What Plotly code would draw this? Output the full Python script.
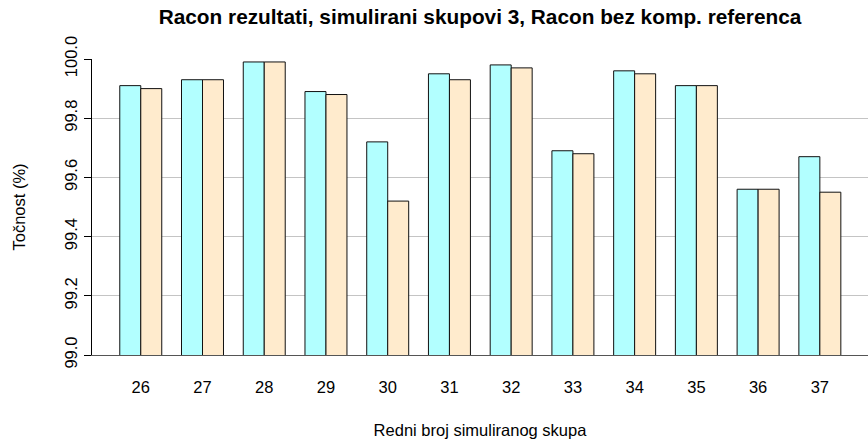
import plotly.graph_objects as go

categories = ["26", "27", "28", "29", "30", "31", "32", "33", "34", "35", "36", "37"]
racon_sim = [99.91, 99.93, 99.99, 99.89, 99.72, 99.95, 99.98, 99.69, 99.96, 99.91, 99.56, 99.67]
racon_bez = [99.90, 99.93, 99.99, 99.88, 99.52, 99.93, 99.97, 99.68, 99.95, 99.91, 99.56, 99.55]
y_ticks = [99.0, 99.2, 99.4, 99.6, 99.8, 100.0]
y_tick_labels = ["99.0", "99.2", "99.4", "99.6", "99.8", "100.0"]

FONT = "Liberation Sans, Arial, Helvetica, sans-serif"

fig = go.Figure()
fig.add_trace(go.Bar(x=categories, y=racon_sim, marker=dict(color="#B2FFFF", line=dict(color="#111111", width=1)),
                     showlegend=False))
fig.add_trace(go.Bar(x=categories, y=racon_bez, marker=dict(color="#FFEBCD", line=dict(color="#111111", width=1)),
                     showlegend=False))

fig.update_layout(
    width=868, height=441,
    margin=dict(l=92, r=0, t=59, b=86),
    paper_bgcolor="white", plot_bgcolor="white",
    barmode="group", bargap=0.32, bargroupgap=0,
    font=dict(family=FONT, size=16.5, color="black"),
    title=dict(text="<b>Racon rezultati, simulirani skupovi 3, Racon bez komp. referenca</b>",
               x=0.5, xref="paper", xanchor="center", y=1 - 17 / 441, yref="container", yanchor="middle",
               font=dict(size=20.8, family=FONT)),
    xaxis=dict(type="category", range=[-0.79, 11.78], showgrid=False, showline=True, automargin=False,
               linecolor="#555555", linewidth=1, ticks="", ticklabelstandoff=17,
               title=dict(text="Redni broj simuliranog skupa", standoff=29, font=dict(size=16.5)),
               tickfont=dict(size=16.5)),
    yaxis=dict(range=[99.0, 100.0], tickvals=y_ticks, ticktext=y_tick_labels, tickangle=-90,
               showgrid=True, gridcolor="#C4C4C4", gridwidth=1, showline=True, linecolor="black",
               linewidth=1, ticks="outside", ticklen=7, tickcolor="black", automargin=False,
               zeroline=False, tickfont=dict(size=16.5),
               title=dict(text="Točnost (%)", standoff=32, font=dict(size=16.5))),
)

fig.write_html("out.html", config={"displayModeBar": False},
               post_script="document.body.style.margin='0';")
